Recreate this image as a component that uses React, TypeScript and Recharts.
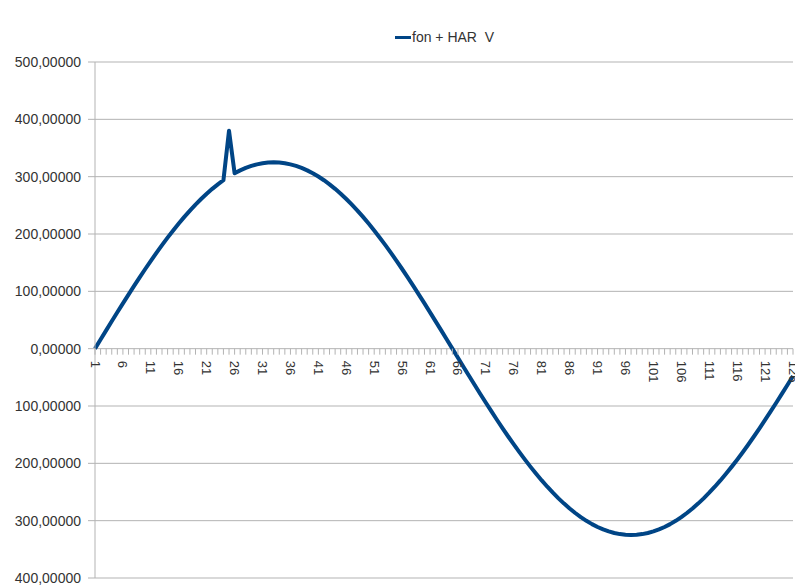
import { LineChart, Line, XAxis, YAxis, CartesianGrid } from "recharts";

// measured voltage samples (V), one per sample index 1..126
const VOLTAGE = [
  0, 15.95, 31.86, 47.69, 63.4, 78.97, 94.34, 109.49, 124.37, 138.96,
  153.2, 167.08, 180.56, 193.6, 206.18, 218.26, 229.81, 240.81, 251.23, 261.04,
  270.23, 278.76, 286.62, 293.8, 380.0, 306.0, 311.01, 315.26, 318.76, 321.48,
  323.43, 324.61, 325.0, 324.61, 323.43, 321.48, 318.76, 315.26, 311.01, 306.0,
  300.26, 293.8, 286.62, 278.76, 270.23, 261.04, 251.23, 240.81, 229.81, 218.26,
  206.18, 193.6, 180.56, 167.08, 153.2, 138.96, 124.37, 109.49, 94.34, 78.97,
  63.4, 47.69, 31.86, 15.95, 0, -15.95, -31.86, -47.69, -63.4, -78.97,
  -94.34, -109.49, -124.37, -138.96, -153.2, -167.08, -180.56, -193.6, -206.18, -218.26,
  -229.81, -240.81, -251.23, -261.04, -270.23, -278.76, -286.62, -293.8, -300.26, -306.0,
  -311.01, -315.26, -318.76, -321.48, -323.43, -324.61, -325.0, -324.61, -323.43, -321.48,
  -318.76, -315.26, -311.01, -306.0, -300.26, -293.8, -286.62, -278.76, -270.23, -261.04,
  -251.23, -240.81, -229.81, -218.26, -206.18, -193.6, -180.56, -167.08, -153.2, -138.96,
  -124.37, -109.49, -94.34, -78.97, -63.4, -47.69,
];

const Y_TICKS = [500, 400, 300, 200, 100, 0, -100, -200, -300, -400];
const Y_MIN = -400;
const Y_MAX = 500;
const SERIES_NAME = "fon + HAR  V";

const data = VOLTAGE.map((v, i) => ({ sample: String(i + 1), v }));

const W = 795;
const H = 586;
const X_AXIS_H = 1;
const MARGIN = { top: 62, right: 2, left: 0, bottom: 7 };
const PLOT_H = H - MARGIN.top - MARGIN.bottom - X_AXIS_H;
const GRID = "#b3b3b3";
const TEXT = "#333333";
const BLUE = "#004586";
const FONT = '"Liberation Sans", Arial, sans-serif';

const fmtY = (v: number) => Math.abs(v).toFixed(5).replace(".", ",");

// x axis sits on the zero line, so shift ticks up from the plot bottom
function XTick(props: any) {
  const { x, y, payload } = props;
  const zeroY = y - (PLOT_H * (0 - Y_MIN)) / (Y_MAX - Y_MIN);
  const n = Number(payload.value);
  return (
    <g>
      <line x1={x} x2={x} y1={zeroY} y2={zeroY + 6} stroke={GRID} />
      {(n - 1) % 5 === 0 && (
        <text
          transform={`translate(${x},${zeroY + 12}) rotate(90)`}
          dominantBaseline="central"
          fontSize={13}
          fill={TEXT}
          fontFamily={FONT}
        >
          {payload.value}
        </text>
      )}
    </g>
  );
}

export default function App() {
  return (
    <div style={{ position: "absolute", left: 0, top: 0, width: W, height: H, fontFamily: FONT }}>
      <div
        style={{
          position: "absolute",
          top: 29,
          left: 395,
          display: "flex",
          alignItems: "center",
          fontSize: 14,
          color: TEXT,
          whiteSpace: "pre",
        }}
      >
        <span style={{ display: "inline-block", width: 16, height: 3, background: BLUE, marginRight: 1 }} />
        {SERIES_NAME}
      </div>
      <LineChart width={W} height={H} data={data} margin={MARGIN} style={{ fontFamily: FONT }}>
        <CartesianGrid vertical={false} stroke={GRID} strokeDasharray="0" />
        <XAxis
          dataKey="sample"
          scale="point"
          interval={0}
          height={X_AXIS_H}
          tickSize={0}
          tickMargin={0}
          axisLine={false}
          tickLine={false}
          tick={(p: any) => <XTick {...p} />}
        />
        <YAxis
          domain={[Y_MIN, Y_MAX]}
          ticks={Y_TICKS}
          interval={0}
          width={95}
          tickSize={7}
          tickMargin={7}
          stroke={GRID}
          tickFormatter={fmtY}
          tick={{ fill: TEXT, fontSize: 14, fontFamily: FONT }}
        />
        <Line
          type="linear"
          dataKey="v"
          name={SERIES_NAME}
          stroke={BLUE}
          strokeWidth={4}
          strokeLinejoin="round"
          dot={false}
          isAnimationActive={false}
        />
      </LineChart>
    </div>
  );
}
